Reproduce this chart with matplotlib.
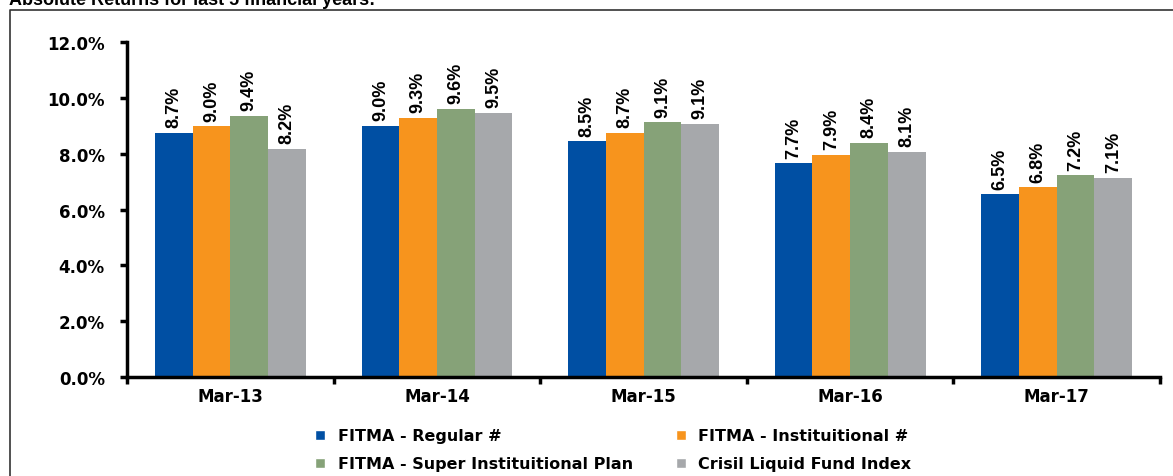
import matplotlib
matplotlib.use('Agg')
import matplotlib.pyplot as plt
import numpy as np
from matplotlib.lines import Line2D

categories = ['Mar-13', 'Mar-14', 'Mar-15', 'Mar-16', 'Mar-17']
series_names = ['FITMA - Regular #', 'FITMA - Instituitional #',
                'FITMA - Super Instituitional Plan', 'Crisil Liquid Fund Index']
regular = [8.74, 8.99, 8.45, 7.66, 6.55]
institutional = [8.98, 9.28, 8.74, 7.95, 6.80]
super_inst = [9.36, 9.60, 9.13, 8.38, 7.23]
crisil = [8.17, 9.46, 9.06, 8.06, 7.13]
labels = [['8.7%', '9.0%', '8.5%', '7.7%', '6.5%'],
          ['9.0%', '9.3%', '8.7%', '7.9%', '6.8%'],
          ['9.4%', '9.6%', '9.1%', '8.4%', '7.2%'],
          ['8.2%', '9.5%', '9.1%', '8.1%', '7.1%']]
colors = ['#004FA3', '#F7941D', '#86A278', '#A6A8AB']

plt.rcParams['font.family'] = ['DejaVu Sans']

fig = plt.figure(figsize=(11.73, 4.77), dpi=100)
ax = fig.add_axes([0.1083, 0.2075, 0.8807, 0.7024])

series = [regular, institutional, super_inst, crisil]
x = np.arange(len(categories))
bw = 0.73 / 4
for i, vals in enumerate(series):
    pos = x - 0.365 + bw * (i + 0.5)
    ax.bar(pos, vals, width=bw, color=colors[i], label=series_names[i])
    for p, v, t in zip(pos, vals, labels[i]):
        ax.text(p, v + 0.2, t, rotation=90, ha='center', va='bottom',
                fontsize=13, fontweight='bold', family='Liberation Sans')

ax.set_xlim(-0.5, 4.5)
ax.set_ylim(0, 12)
ax.set_yticks(np.arange(0, 12.1, 2))
ax.set_yticklabels(['%.1f%%' % v for v in np.arange(0, 12.1, 2)],
                   fontsize=12, fontweight='bold')
ax.set_xticks(x)
ax.set_xticklabels(categories, fontsize=12, fontweight='bold')
ax.tick_params(axis='x', length=0, pad=7)
ax.set_xticks(np.arange(-0.5, 4.6, 1), minor=True)
ax.tick_params(axis='x', which='minor', length=5, width=2.5, direction='out')
ax.tick_params(axis='y', length=5, width=2.5, direction='out', pad=11)
for s in ['top', 'right']:
    ax.spines[s].set_visible(False)
for s in ['left', 'bottom']:
    ax.spines[s].set_linewidth(2.5)

handles = [Line2D([0], [0], marker='s', color='w', markerfacecolor=c,
                  markersize=7, linestyle='none') for c in colors]
order = [0, 2, 1, 3]
fig.legend([handles[k] for k in order], [series_names[k] for k in order],
           ncol=2, loc='center', bbox_to_anchor=(0.518, 0.055), frameon=False,
           prop={'size': 11.5, 'weight': 'bold'}, handletextpad=0.1,
           columnspacing=2.0, labelspacing=0.8)

fig.text(0.008, 0.998, 'Absolute Returns for last 5 financial years:',
         fontsize=13, fontweight='bold', va='center', ha='left',
         family='Liberation Sans')
fig.add_artist(Line2D([0.0085, 0.0085, 1.0], [0.0, 0.977, 0.977],
                      color='#333333', linewidth=1.2, transform=fig.transFigure))

fig.savefig('out.png', dpi=100)
